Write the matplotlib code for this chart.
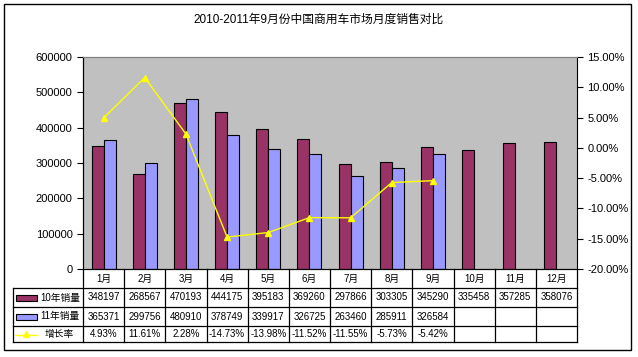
import numpy as np
import matplotlib
matplotlib.use("Agg")
import matplotlib.pyplot as plt
from matplotlib.patches import Rectangle
from matplotlib.lines import Line2D

plt.rcParams['font.family'] = ['Liberation Sans', 'Noto Sans CJK SC', 'DejaVu Sans']

# 数据
months = ["1月", "2月", "3月", "4月", "5月", "6月", "7月", "8月", "9月", "10月", "11月", "12月"]
sales_2010 = [348197, 268567, 470193, 444175, 395183, 369260, 297866, 303305, 345290, 335458, 357285, 358076]
sales_2011 = [365371, 299756, 480910, 378749, 339917, 326725, 263460, 285911, 326584]
growth = [4.93, 11.61, 2.28, -14.73, -13.98, -11.52, -11.55, -5.73, -5.42]
row_names = ["10年销量", "11年销量", "增长率"]

W, H = 638, 357
fig = plt.figure(figsize=(W / 100, H / 100), dpi=100)

# 外框
fig.add_artist(Rectangle((4 / W, 1 - 350 / H), 627 / W, 346 / H, transform=fig.transFigure,
                         fill=False, edgecolor="black", lw=1))

# 绘图区
L, R, T, B = 83, 577, 57, 269
ax = fig.add_axes([L / W, 1 - B / H, (R - L) / W, (B - T) / H])
ax.set_facecolor("#C0C0C0")

x = np.arange(len(months))
bw = 0.29
ax.bar(x - bw / 2, sales_2010, bw, color="#993366", edgecolor="black", lw=0.8, zorder=2)
ax.bar(x[:len(sales_2011)] + bw / 2, sales_2011, bw, color="#9999FF", edgecolor="black", lw=0.8, zorder=2)
ax.set_xlim(-0.5, len(months) - 0.5)
ax.set_ylim(0, 600000)
ax.set_yticks(np.arange(0, 600001, 100000))
ax.set_xticks([])
ax.tick_params(axis="y", labelsize=8, length=4, direction="out")
ax.spines["top"].set_color("#808080")
ax.spines["right"].set_visible(False)

ax2 = ax.twinx()
ax2.plot(x[:len(growth)], growth, color="#FFFF00", lw=1, marker="^", markersize=4.5, zorder=3)
ax2.set_ylim(-20, 15)
ax2.set_yticks(np.arange(-20, 16, 5))
ax2.set_yticklabels([f"{v:.2f}%" for v in np.arange(-20, 16, 5)])
ax2.tick_params(axis="y", labelsize=8, length=4, direction="out")
ax2.spines["top"].set_color("#808080")

fig.text(0.5, 1 - 20 / H, "2010-2011年9月份中国商用车市场月度销售对比", ha="center", va="center", fontsize=8.5)

# 数据表
def fy(py):
    return 1 - py / H

def fx(px):
    return px / W

row_y = [269, 288, 307, 326, 342]
col_w = (R - L) / len(months)
col_x = [L + i * col_w for i in range(len(months) + 1)]
lkw = dict(color="black", lw=0.9)
fs = 7

for yy in row_y[1:]:
    fig.add_artist(Line2D([fx(13), fx(R)], [fy(yy), fy(yy)], transform=fig.transFigure, **lkw))
fig.add_artist(Line2D([fx(13), fx(13)], [fy(288), fy(342)], transform=fig.transFigure, **lkw))
for cx in col_x:
    fig.add_artist(Line2D([fx(cx), fx(cx)], [fy(269), fy(342)], transform=fig.transFigure, **lkw))

for i, m in enumerate(months):
    cx = fx(col_x[i] + col_w / 2)
    fig.text(cx, fy((row_y[0] + row_y[1]) / 2), m, ha="center", va="center", fontsize=fs)
    fig.text(cx, fy((row_y[1] + row_y[2]) / 2), str(sales_2010[i]), ha="center", va="center", fontsize=fs)
    if i < len(sales_2011):
        fig.text(cx, fy((row_y[2] + row_y[3]) / 2), str(sales_2011[i]), ha="center", va="center", fontsize=fs)
    if i < len(growth):
        fig.text(cx, fy((row_y[3] + row_y[4]) / 2), f"{growth[i]:.2f}%", ha="center", va="center", fontsize=fs)

# 图例
for k, name in enumerate(row_names):
    yc = (row_y[k + 1] + row_y[k + 2]) / 2
    if k < 2:
        c = "#993366" if k == 0 else "#9999FF"
        fig.add_artist(Rectangle((fx(16), fy(yc + 3)), 21 / W, 6 / H, transform=fig.transFigure,
                                 facecolor=c, edgecolor="black", lw=0.8))
        fig.text(fx(40), fy(yc), name, ha="left", va="center", fontsize=fs)
    else:
        fig.add_artist(Line2D([fx(15), fx(37)], [fy(yc + 1), fy(yc + 1)], transform=fig.transFigure,
                              color="#FFFF00", lw=1))
        fig.add_artist(Line2D([fx(26)], [fy(yc)], transform=fig.transFigure,
                              color="#FFFF00", marker="^", markersize=4.5, lw=0))
        fig.text(fx(45), fy(yc), name, ha="left", va="center", fontsize=fs)

fig.savefig("out.png", dpi=100)
